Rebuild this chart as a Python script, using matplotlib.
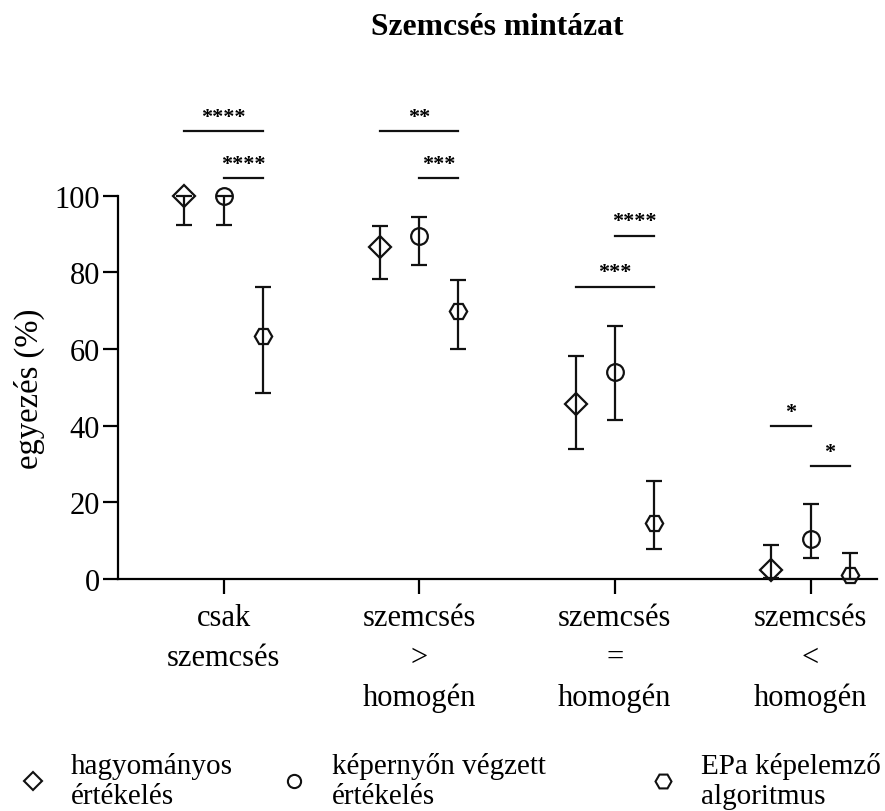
import matplotlib
matplotlib.use("Agg")
import matplotlib.pyplot as plt
from matplotlib.lines import Line2D
import numpy as np

plt.rcParams['font.family'] = ['Liberation Serif', 'DejaVu Serif']

groups = ["csak\nszemcsés", "szemcsés\n>\nhomogén", "szemcsés\n=\nhomogén", "szemcsés\n<\nhomogén"]
series = ["hagyományos\nértékelés", "képernyőn végzett\nértékelés", "EPa képelemző\nalgoritmus"]
markers = ["D", "o", "H"]

# mean, lower and upper end of the error bar (%)
mean = [[100.0, 86.5, 45.7, 2.4],
        [100.0, 89.6, 54.0, 10.4],
        [63.5, 69.8, 14.6, 1.0]]
low = [[92.4, 78.3, 33.9, 0.2],
       [92.4, 82.0, 41.6, 5.4],
       [48.6, 60.0, 7.8, 0.0]]
high = [[100.0, 92.2, 58.1, 8.9],
        [100.0, 94.4, 66.1, 19.5],
        [76.2, 78.1, 25.5, 6.8]]

# significance: group, series from, series to, bar height, stars
sig = [(0, 0, 2, 116.8, "****"),
       (0, 1, 2, 104.7, "****"),
       (1, 0, 2, 116.8, "**"),
       (1, 1, 2, 104.7, "***"),
       (2, 1, 2, 89.6, "****"),
       (2, 0, 2, 76.3, "***"),
       (3, 0, 1, 39.8, "*"),
       (3, 1, 2, 29.5, "*")]

offs = [-0.2, 0.0, 0.2]
x = np.arange(len(groups))
ms_plot = {"D": 11, "o": 12, "H": 12.5}
ms_leg = {"D": 9.5, "o": 9.5, "H": 11.5}
ink = '#111111'

fig = plt.figure(figsize=(8.85, 8.12), dpi=100)
ax = fig.add_axes([0.1333, 0.2857, 0.8577, 0.59])

for k in range(3):
    m = np.array(mean[k]); lo = np.array(low[k]); hi = np.array(high[k])
    ax.errorbar(x + offs[k], m, yerr=[m - lo, hi - m], fmt=markers[k],
                ms=ms_plot[markers[k]], mfc='none', mec=ink, mew=1.6,
                ecolor=ink, elinewidth=1.6, capsize=5.5, capthick=1.6,
                clip_on=False, zorder=3)

for g, i, j, yb, s in sig:
    x0 = g + offs[i]; x1 = g + offs[j]
    ax.plot([x0, x1], [yb, yb], color=ink, lw=1.6, clip_on=False)
    ax.text((x0 + x1) / 2, yb + 2.4, s, ha='center', va='baseline',
            fontsize=16, fontweight='bold')

ax.set_xlim(-0.54, 3.34)
ax.set_ylim(0, 125)
ax.set_yticks([0, 20, 40, 60, 80, 100])
ax.set_xticks(x)
ax.set_xticklabels(groups, fontsize=22, linespacing=1.5)
ax.tick_params(axis='y', labelsize=22, length=11, width=1.6, pad=2)
ax.tick_params(axis='x', length=11, width=1.6, pad=6)
for sp in ['top', 'right']:
    ax.spines[sp].set_visible(False)
for sp in ['left', 'bottom']:
    ax.spines[sp].set_linewidth(1.6)
ax.spines['left'].set_bounds(0, 100)
ax.set_ylabel("egyezés (%)", fontsize=23.5)
ax.yaxis.set_label_coords(-0.096, 50 / 125)

fig.text(0.562, 0.966, "Szemcsés mintázat", ha='center', va='center',
         fontsize=22.8, fontweight='bold')

leg_x = [0.0203, 0.316, 0.733]
for k in range(3):
    h = Line2D([], [], ls='none', marker=markers[k], ms=ms_leg[markers[k]],
               mfc='none', mec=ink, mew=1.5)
    fig.legend(handles=[h], labels=[series[k]], loc='center left',
               bbox_to_anchor=(leg_x[k], 0.037), frameon=False, fontsize=21,
               handlelength=1.0, handletextpad=0.8, borderpad=0,
               borderaxespad=0, labelspacing=0)

fig.savefig("out.png", dpi=100)
